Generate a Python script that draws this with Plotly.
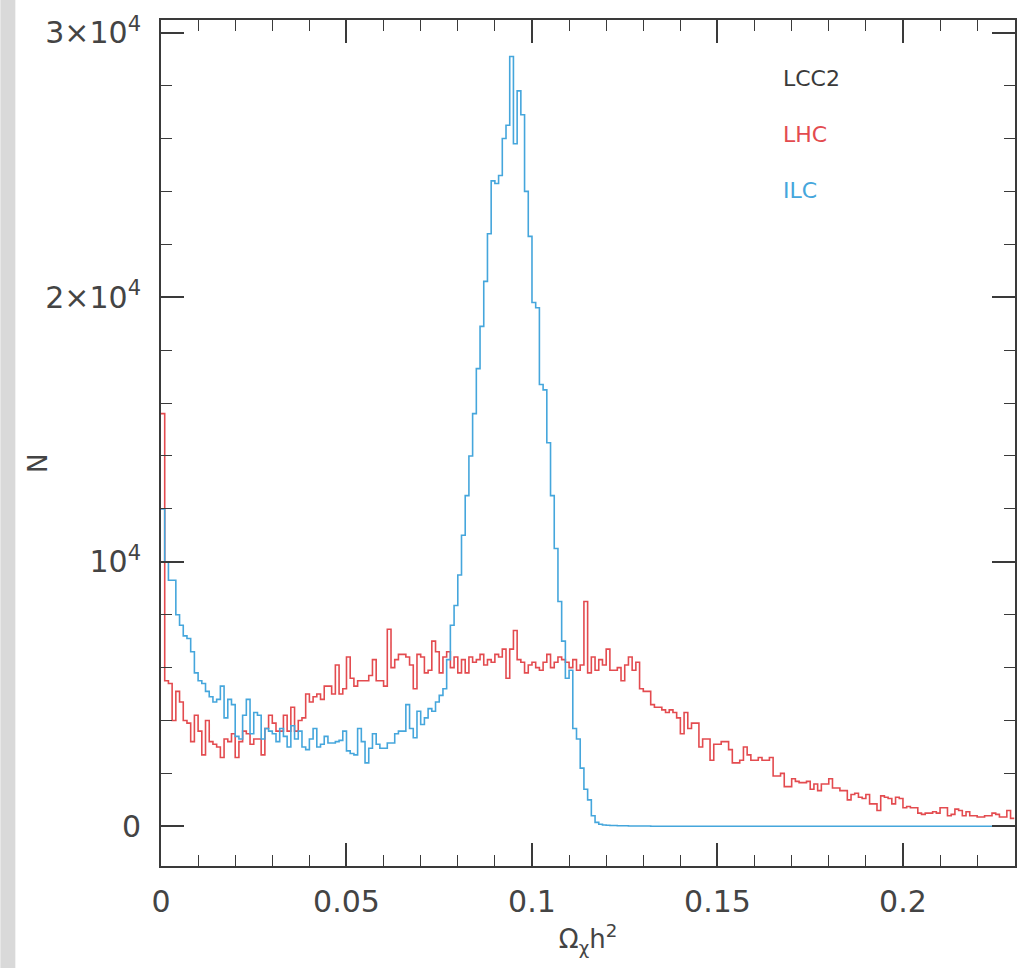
import numpy as np
import plotly.graph_objects as go

# ---- data ----
BIN_WIDTH = 0.001
series_names = ["LCC2", "LHC", "ILC"]

lhc_counts = [
    15600, 5500, 5400, 4000, 5100, 4700, 4000, 3900, 3200, 4200,
    3600, 2700, 4000, 3200, 3100, 3000, 2600, 3300, 3200, 3500,
    2600, 3200, 3600, 3500, 3100, 3300, 3300, 2700, 3700, 4200,
    3900, 3600, 3600, 4200, 3600, 4500, 3600, 4000, 4100, 5000,
    4700, 4900, 5000, 4800, 5300, 5300, 5000, 6100, 5000, 5200,
    6400, 5600, 5300, 5500, 5500, 5500, 5700, 6300, 5500, 5500,
    5300, 7450, 6000, 6300, 6500, 6500, 6400, 6100, 5200, 6500,
    6400, 5800, 5900, 7000, 6600, 5800, 6400, 6600, 6000, 6400,
    5800, 6300, 5800, 6400, 6200, 6300, 6500, 6100, 6300, 6200,
    6500, 6400, 6700, 5600, 6700, 7400, 6300, 6200, 5800, 6100,
    6200, 6000, 5900, 6200, 6500, 6000, 6200, 6400, 6300, 6200,
    6000, 6300, 5900, 6100, 8500, 5800, 6400, 5900, 6300, 6100,
    6700, 5900, 5900, 6000, 5500, 6100, 6400, 5900, 6200, 5200,
    5100, 5100, 4600, 4500, 4500, 4400, 4300, 4400, 4300, 4100,
    3500, 4300, 3700, 3900, 3900, 3000, 3300, 3300, 2500, 3100,
    3100, 3200, 3200, 2900, 2400, 2400, 2500, 3000, 2700, 2500,
    2500, 2600, 2500, 2500, 2600, 1900, 1900, 2000, 1500, 1500,
    1800, 1700, 1650, 1650, 1700, 1400, 1600, 1350, 1600, 1600,
    1800, 1450, 1450, 1350, 1350, 1000, 1200, 1250, 1100, 1050,
    1200, 850, 850, 600, 1150, 1100, 1050, 850, 1100, 1050,
    700, 750, 700, 700, 500, 450, 500, 500, 550, 500,
    700, 700, 400, 450, 650, 600, 400, 550, 400, 400,
    350, 350, 400, 400, 500, 450, 350, 350, 600, 300,
]

ilc_counts = [
    12000, 10000, 9300, 9300, 8000, 7600, 7200, 7100, 6600, 5800,
    5500, 5400, 5100, 4900, 4700, 4800, 5300, 4100, 4800, 4600,
    3400, 3300, 4200, 4800, 3500, 4300, 4200, 3300, 3700, 3600,
    3500, 3200, 3700, 3400, 3000, 3800, 3300, 3600, 3000, 2900,
    3300, 3700, 3000, 3100, 3400, 3150, 3150, 3200, 3250, 3600,
    2850, 2750, 2700, 3700, 3200, 2400, 2950, 3500, 3100, 2950,
    2950, 3150, 3150, 3500, 3600, 3600, 4600, 3700, 3350, 4350,
    3850, 4100, 4450, 4350, 4700, 4950, 5200, 6300, 7600, 8350,
    9500, 11000, 12500, 14000, 15600, 17300, 18900, 20600, 22400, 24400,
    24300, 24600, 26000, 26500, 29100, 25800, 27800, 26900, 24000, 22300,
    19800, 19600, 16700, 16500, 14500, 12500, 10500, 8500, 7000, 5600,
    5900, 3700, 3300, 2200, 1400, 1000, 400, 150, 80, 50,
    40, 30, 30, 20, 20, 20, 10, 10, 10, 10,
    10, 10, 0, 0, 0, 0, 0, 0, 0, 0,
    0, 0, 0, 0, 0, 0, 0, 0, 0, 0,
    0, 0, 0, 0, 0, 0, 0, 0, 0, 0,
    0, 0, 0, 0, 0, 0, 0, 0, 0, 0,
    0, 0, 0, 0, 0, 0, 0, 0, 0, 0,
    0, 0, 0, 0, 0, 0, 0, 0, 0, 0,
    0, 0, 0, 0, 0, 0, 0, 0, 0, 0,
    0, 0, 0, 0, 0, 0, 0, 0, 0, 0,
    0, 0, 0, 0, 0, 0, 0, 0, 0, 0,
    0, 0, 0, 0, 0, 0, 0, 0, 0, 0,
]

x_tickvals = [0, 0.05, 0.1, 0.15, 0.2]
x_ticktext = ["0", "0.05", "0.1", "0.15", "0.2"]
y_tickvals = [0, 10000, 20000, 30000]
y_ticktext = ["0", "10<sup>4</sup>", "2×10<sup>4</sup>", "3×10<sup>4</sup>"]

RED = "#e34b4f"
BLUE = "#45a6dc"
INK = "#3a3a3a"
FONT = "DejaVu Sans"


def step_xy(counts):
    n = len(counts)
    edges = np.arange(n + 1) * BIN_WIDTH
    ys = list(counts) + [counts[-1]]
    return edges, ys


fig = go.Figure()
for counts, color, name in [(lhc_counts, RED, "LHC"), (ilc_counts, BLUE, "ILC")]:
    xs, ys = step_xy(counts)
    fig.add_trace(go.Scatter(x=xs, y=ys, mode="lines", line=dict(shape="hv", color=color, width=1.6),
                             name=name, showlegend=False, hoverinfo="skip"))

W, H = 1029, 968
L, R, T, B = 161, 12, 12, 102
pw, ph = W - L - R, H - T - B

axis_common = dict(
    showline=True, mirror="allticks", linecolor=INK, linewidth=2,
    ticks="inside", tickcolor=INK, tickwidth=1.5, ticklen=23,
    showgrid=False, zeroline=False,
)

fig.update_layout(
    width=W, height=H,
    margin=dict(l=L, r=R, t=T, b=B, pad=0),
    paper_bgcolor="white", plot_bgcolor="white",
    xaxis=dict(range=[0, 0.2302], tickvals=x_tickvals, ticktext=x_ticktext,
               minor=dict(ticks="inside", ticklen=11, dtick=0.01, tickcolor=INK, tickwidth=1.2, showgrid=False),
               title=dict(text="Ω<sub>χ</sub>h<sup>2</sup>", font=dict(family=FONT, size=26, color="#444"), standoff=12),
               ticklabelstandoff=8,
               tickfont=dict(family=FONT, size=30, color="#444"),
               **axis_common),
    yaxis=dict(range=[-1500, 30480], tickvals=y_tickvals, ticktext=y_ticktext,
               minor=dict(ticks="inside", ticklen=11, dtick=2000, tickcolor=INK, tickwidth=1.2, showgrid=False),
               ticklabelstandoff=12,
               tickfont=dict(family=FONT, size=30, color="#444"),
               **axis_common),
    shapes=[
        dict(type="rect", xref="paper", yref="paper", x0=(0 - L) / pw, x1=(15 - L) / pw, y0=-1, y1=2,
             fillcolor="#d9d9d9", line=dict(width=0), layer="below"),
    ],
)

# y-axis title
fig.add_annotation(x=(38 - L) / pw, y=1 - (460 - T) / ph, xref="paper", yref="paper",
                   text="N", showarrow=False, textangle=-90, xanchor="center", yanchor="middle",
                   font=dict(family=FONT, size=26, color="#444"))

for i, (name, color) in enumerate(zip(series_names, [INK, RED, BLUE])):
    fig.add_annotation(x=(782 - L) / pw, y=1 - ((71 + 56.5 * i) - T) / ph, xref="paper", yref="paper",
                       text=name, showarrow=False, xanchor="left", yanchor="middle",
                       font=dict(family=FONT, size=22, color=color))

fig.write_html("out.html", config={"displayModeBar": False},
               post_script="document.body.style.margin='0';document.body.style.overflow='hidden';")
